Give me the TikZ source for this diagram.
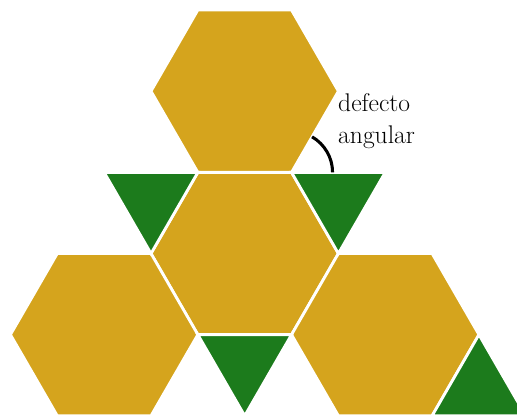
\documentclass[tikz,border=0pt]{standalone}
\usepackage{xcolor}
\usepackage{tikz}
\definecolor{gold}{HTML}{D5A41D}
\definecolor{leaf}{HTML}{1C7B1C}

\begin{document}
\begin{tikzpicture}[
  x=0.3mm,y=0.3mm,
  hexa/.style={fill=gold,draw=white,line width=2.4pt,line join=miter},
  trig/.style={fill=leaf,draw=white,line width=2.4pt,line join=miter},
  defect/.style={draw=black,line width=2.6pt},
  note/.style={align=left,inner sep=0pt,font=\fontsize{21.8}{28}\selectfont}
]
\clip (-244.7,-162.5) rectangle (272.3,253.5);
\foreach \c in {(0,0),(0,162.3),(-140.55,-81.15),(140.55,-81.15)}
  \filldraw[hexa] \c +(0:93.7) -- +(60:93.7) -- +(120:93.7) -- +(180:93.7) -- +(240:93.7) -- +(300:93.7) -- cycle;
\filldraw[trig] (-46.85,81.15) -- (-140.55,81.15) -- (-93.7,0) -- cycle;
\filldraw[trig] (46.85,81.15) -- (140.55,81.15) -- (93.7,0) -- cycle;
\filldraw[trig] (-46.85,-81.15) -- (46.85,-81.15) -- (0,-162.3) -- cycle;
\filldraw[trig] (234.25,-81.15) -- (187.4,-162.3) -- (281.1,-162.3) -- cycle;
\draw[defect] (46.85,81.15) ++(60:41) arc[start angle=60,end angle=0,radius=41];
\node[note,anchor=base west] (defecto) at (93.3,109.5) {defecto\\angular};
\end{tikzpicture}
\end{document}
